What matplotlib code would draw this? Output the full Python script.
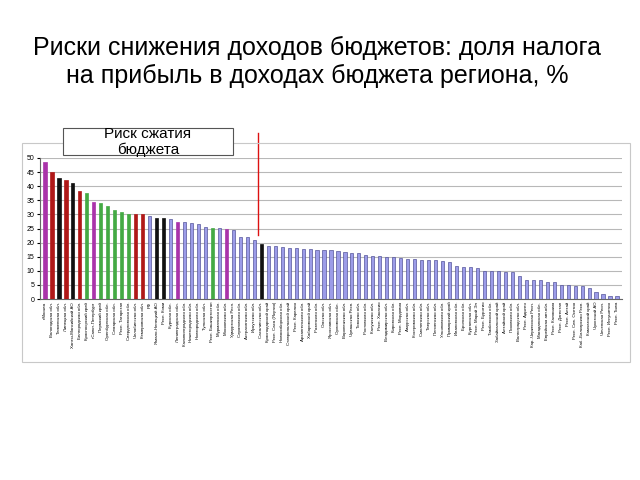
"""Риски снижения доходов бюджетов."""

import matplotlib

matplotlib.use("Agg")
from matplotlib import pyplot as plt
from matplotlib.patches import Rectangle
from matplotlib.lines import Line2D

plt.rcParams["font.family"] = ["Liberation Sans", "DejaVu Sans"]

regions = [
    "г.Москва", "Вологодская обл.", "Тюменская обл.", "Липецкая обл.",
    "Ханты-Мансийский АО", "Белгородская обл.", "Красноярский край",
    "г.Санкт-Петербург", "Пермский край", "Оренбургская обл.",
    "Самарская обл.", "Респ. Татарстан", "Свердловская обл.",
    "Челябинская обл.", "Кемеровская обл.", "РФ", "Ямало-Ненецкий АО",
    "Респ. Коми", "Курская обл.", "Ленинградская обл.",
    "Калининградская обл.", "Нижегородская обл.", "Новгородская обл.",
    "Тульская обл.", "Респ. Башкортостан", "Мурманская обл.",
    "Московская обл.", "Удмуртская Респ.", "Саратовская обл.",
    "Астраханская обл.", "Иркутская обл.", "Сахалинская обл.",
    "Краснодарский край", "Респ. Саха (Якутия)", "Новосибирская обл.",
    "Ставропольский край", "Респ. Карелия", "Архангельская обл.",
    "Хабаровский край", "Рязанская обл.", "Омская обл.",
    "Ярославская обл.", "Орловская обл.", "Воронежская обл.",
    "Чувашская Респ.", "Томская обл.", "Ростовская обл.", "Калужская обл.",
    "Респ. Хакасия", "Владимирская обл.", "Кировская обл.",
    "Респ. Мордовия", "Амурская обл.", "Костромская обл.",
    "Смоленская обл.", "Тверская обл.", "Пензенская обл.",
    "Ульяновская обл.", "Приморский край", "Ивановская обл.",
    "Брянская обл.", "Курганская обл.", "Респ. Марий Эл", "Респ. Бурятия",
    "Тамбовская обл.", "Забайкальский край", "Алтайский край",
    "Псковская обл.", "Волгоградская обл.", "Респ. Адыгея",
    "Кар.-Черкесская Респ.", "Магаданская обл.", "Еврейская авт.обл.",
    "Респ. Калмыкия", "Респ. Дагестан", "Респ. Алтай", "Респ. Сев. Осетия",
    "Каб.-Балкарская Респ.", "Камчатский край", "Чукотский АО",
    "Чеченская Респ.", "Респ. Ингушетия", "Респ. Тыва",
]

shares = [
    48.6, 45.0, 42.8, 42.1, 41.1, 38.3, 37.7, 34.3, 33.9, 33.0,
    31.4, 30.7, 30.2, 30.0, 30.0, 29.4, 28.8, 28.6, 28.3, 27.3,
    27.3, 26.8, 26.6, 25.6, 25.3, 25.3, 24.9, 24.4, 22.1, 22.1,
    20.9, 19.4, 18.9, 18.7, 18.6, 18.2, 18.1, 17.7, 17.6, 17.4,
    17.3, 17.3, 16.9, 16.6, 16.3, 16.3, 15.7, 15.4, 15.4, 14.9,
    14.8, 14.4, 14.2, 14.2, 13.9, 13.9, 13.8, 13.5, 13.1, 11.6,
    11.5, 11.5, 11.0, 9.8, 9.8, 9.8, 9.5, 9.5, 8.3, 6.7,
    6.6, 6.6, 6.1, 5.9, 5.1, 5.1, 4.7, 4.5, 4.0, 2.4,
    1.8, 1.2, 1.1,
]

# группа выделения для каждого региона
groups = (
    "mrkrkrgmgggggrrbkkbmbbbbgbmbbbbk" + "b" * 51
)

group_colors = {
    "m": "#aa33aa",
    "r": "#b01818",
    "k": "#111111",
    "g": "#44aa44",
    "b": "#9c9ce8",
}
edge_colors = {"b": "#55559a"}

fig = plt.figure(figsize=(6.4, 4.8), dpi=100)

fig.text(0.495, 0.871, "Риски снижения доходов бюджетов: доля налога\n"
         "на прибыль в доходах бюджета региона, %",
         ha="center", va="center", fontsize=18, linespacing=1.22)

# рамка области диаграммы
fig.patches.append(Rectangle((22 / 640, 1 - 362 / 480), 608 / 640, 219 / 480,
                             transform=fig.transFigure, fill=False,
                             edgecolor="#c8c8c8", linewidth=0.8))

ax = fig.add_axes((40 / 640, 1 - 299 / 480, 582 / 640, 141 / 480))
x = list(range(len(regions)))
colors = [group_colors[g] for g in groups]
edges = [edge_colors.get(g, group_colors[g]) for g in groups]
ax.bar(x, shares, width=0.45, color=colors, edgecolor=edges, linewidth=0.5,
       zorder=3)

ax.set_xlim(-0.72, len(regions) - 0.28)
ax.set_ylim(0, 50)
ax.set_yticks(range(0, 51, 5))
ax.yaxis.grid(True, color="#b8b8b8", linewidth=0.8, zorder=0)
ax.tick_params(axis="y", labelsize=5, length=2, pad=2)
ax.set_xticks(x)
ax.set_xticklabels(regions, rotation=90, fontsize=3.2)
ax.tick_params(axis="x", length=0, pad=2)
for side in ("top", "right"):
    ax.spines[side].set_visible(False)
ax.spines["left"].set_color("#666666")
ax.spines["bottom"].set_color("#666666")

# граница риска
ax.add_line(Line2D([30.6, 30.6], [22.7, 58.9], color="#dd1111",
                   linewidth=1.0, clip_on=False, zorder=4))

# подпись в рамке
fig.patches.append(Rectangle((63 / 640, 1 - 155 / 480), 170 / 640, 27 / 480,
                             transform=fig.transFigure, facecolor="white",
                             edgecolor="#555555", linewidth=0.8, zorder=5))
fig.text(148 / 640, 1 - 142 / 480, "Риск сжатия\nбюджета", ha="center",
         va="center", fontsize=11, linespacing=1.1, zorder=6)

fig.savefig("out.png", dpi=100)
plt.close(fig)
